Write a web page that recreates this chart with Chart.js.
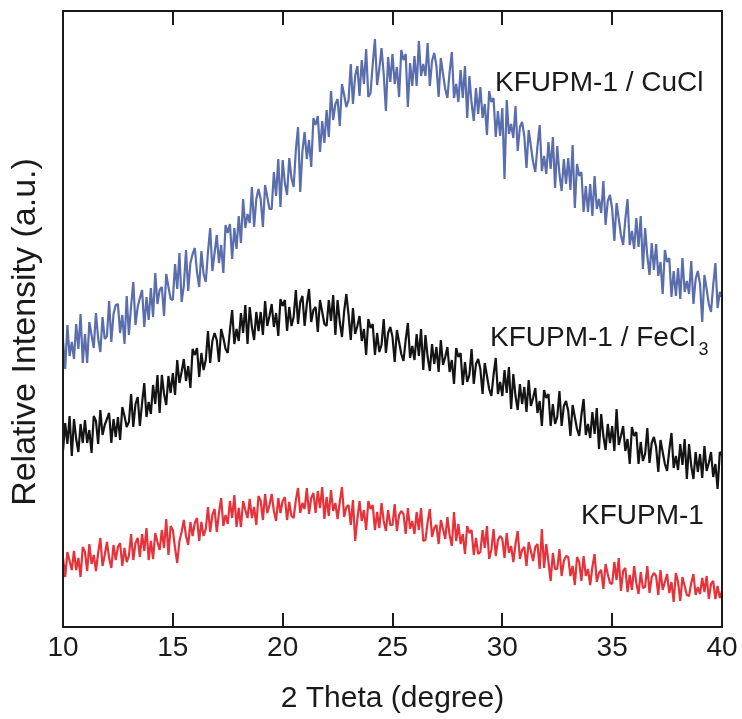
<!DOCTYPE html>
<html>
<head>
<meta charset="utf-8">
<title>KFUPM-1 XRD patterns</title>
<script src="https://cdn.jsdelivr.net/npm/chart.js@4.4.0/dist/chart.umd.min.js"></script>
<style>
  html, body { margin: 0; padding: 0; background: #fff; }
  canvas { display: block; }
</style>
</head>
<body>
<canvas id="xrd" width="742" height="719"></canvas>
<script>
// Powder XRD scans, 2 theta 10-40 deg with 0.1 deg steps.
// Intensities are in arbitrary units (curves already offset from each other).
const scanStart = 10;
const scanStep = 0.1;

const cuclIntensity = [
  287, 258, 302, 271, 285, 268, 303, 278, 313, 264,
  293, 264, 305, 292, 279, 314, 289, 275, 310, 288,
  291, 326, 285, 313, 322, 323, 294, 312, 283, 331,
  292, 321, 345, 302, 320, 329, 337, 300, 330, 307,
  339, 310, 354, 323, 337, 340, 311, 353, 340, 328,
  327, 363, 338, 374, 325, 341, 377, 336, 364, 373,
  379, 355, 340, 376, 353, 345, 375, 399, 356, 374,
  392, 364, 382, 354, 402, 394, 403, 368, 399, 378,
  411, 384, 428, 399, 413, 404, 440, 400, 428, 438,
  428, 400, 442, 430, 418, 418, 455, 431, 468, 420,
  467, 444, 432, 469, 449, 440, 477, 500, 435, 476,
  495, 468, 487, 460, 509, 502, 511, 475, 506, 484,
  517, 490, 536, 507, 523, 528, 501, 543, 532, 520,
  527, 563, 523, 551, 561, 531, 567, 543, 578, 530,
  534, 563, 588, 542, 558, 579, 553, 516, 570, 545,
  573, 543, 560, 530, 577, 567, 573, 520, 564, 541,
  571, 541, 586, 551, 563, 551, 584, 541, 566, 574,
  561, 530, 569, 553, 538, 529, 555, 575, 529, 543,
  525, 557, 529, 561, 509, 551, 524, 506, 539, 513,
  540, 509, 523, 492, 536, 525, 529, 490, 516, 491,
  519, 448, 527, 493, 503, 489, 521, 476, 500, 505,
  491, 459, 497, 481, 465, 455, 481, 502, 456, 471,
  453, 485, 458, 490, 439, 481, 453, 436, 468, 443,
  469, 437, 482, 419, 463, 451, 455, 415, 441, 415,
  443, 411, 451, 418, 428, 414, 446, 402, 426, 432,
  418, 386, 424, 408, 392, 382, 408, 428, 382, 396,
  378, 409, 380, 411, 358, 399, 371, 352, 384, 357,
  383, 351, 365, 333, 377, 365, 369, 330, 356, 331,
  359, 328, 369, 335, 346, 333, 366, 323, 348, 356,
  343, 305, 352, 338, 323, 315, 342, 364, 319, 335,
  330
];

const feclIntensity = [
  176, 204, 183, 211, 171, 208, 188, 175, 203, 184,
  207, 184, 197, 174, 211, 206, 183, 217, 192, 202,
  208, 214, 184, 208, 190, 210, 187, 220, 211, 200,
  205, 233, 200, 223, 230, 201, 224, 244, 210, 225,
  213, 242, 223, 252, 214, 252, 233, 222, 251, 234,
  254, 232, 267, 244, 255, 268, 246, 261, 239, 278,
  272, 279, 250, 274, 257, 267, 296, 264, 286, 294,
  287, 265, 298, 289, 278, 274, 297, 317, 283, 298,
  286, 314, 294, 322, 283, 320, 300, 287, 315, 296,
  315, 292, 326, 301, 311, 323, 300, 314, 291, 328,
  321, 327, 296, 320, 301, 310, 337, 303, 325, 331,
  301, 323, 338, 305, 317, 320, 295, 327, 315, 303,
  301, 327, 306, 332, 292, 327, 305, 290, 316, 333,
  312, 287, 319, 293, 301, 311, 286, 298, 272, 308,
  299, 303, 272, 294, 275, 282, 308, 274, 294, 300,
  290, 265, 297, 285, 273, 266, 287, 304, 269, 281,
  267, 293, 271, 298, 257, 292, 270, 256, 283, 263,
  280, 255, 287, 262, 270, 280, 255, 267, 243, 279,
  270, 274, 242, 265, 245, 252, 278, 243, 263, 268,
  258, 233, 264, 251, 238, 231, 252, 269, 233, 245,
  231, 257, 234, 260, 218, 253, 231, 217, 243, 223,
  240, 215, 247, 221, 229, 239, 214, 226, 201, 237,
  229, 233, 201, 223, 203, 210, 236, 201, 221, 226,
  216, 191, 222, 210, 198, 191, 212, 228, 192, 203,
  189, 215, 193, 219, 178, 213, 191, 177, 203, 184,
  201, 176, 218, 182, 191, 201, 176, 188, 163, 200,
  191, 195, 163, 185, 166, 173, 199, 164, 184, 190,
  180, 155, 187, 175, 163, 156, 177, 194, 159, 171,
  157, 183, 162, 188, 148, 183, 161, 148, 175, 155,
  173, 149, 181, 156, 164, 175, 150, 163, 138, 175,
  172
];

const pristineIntensity = [
  69, 50, 75, 66, 57, 76, 57, 69, 50, 80,
  75, 56, 83, 63, 72, 56, 74, 89, 61, 72,
  85, 69, 59, 82, 67, 80, 84, 61, 79, 65,
  71, 93, 67, 84, 89, 70, 93, 76, 99, 67,
  86, 68, 94, 85, 77, 97, 79, 108, 72, 101,
  97, 79, 64, 86, 95, 107, 91, 82, 105, 91,
  104, 109, 86, 105, 91, 98, 120, 95, 112, 118,
  95, 114, 129, 101, 112, 103, 126, 109, 132, 100,
  119, 100, 126, 117, 109, 128, 109, 120, 102, 131,
  126, 107, 133, 114, 122, 133, 116, 106, 129, 114,
  126, 130, 107, 125, 111, 109, 127, 139, 114, 124,
  118, 139, 113, 129, 134, 114, 136, 119, 140, 108,
  130, 111, 137, 116, 124, 108, 125, 140, 110, 120,
  122, 102, 127, 86, 108, 126, 106, 117, 97, 126,
  118, 122, 97, 115, 99, 124, 106, 96, 117, 102,
  102, 123, 96, 112, 116, 113, 93, 119, 98, 106,
  93, 115, 97, 119, 86, 87, 105, 118, 90, 99,
  102, 83, 107, 98, 88, 110, 92, 81, 115, 86,
  103, 83, 93, 73, 101, 94, 97, 72, 89, 73,
  75, 97, 79, 101, 68, 77, 98, 71, 87, 91,
  88, 69, 94, 74, 81, 65, 83, 96, 68, 77,
  80, 61, 85, 76, 66, 80, 83, 58, 98, 59,
  83, 65, 46, 74, 58, 58, 78, 51, 66, 71,
  70, 51, 61, 42, 70, 65, 46, 71, 51, 58,
  42, 60, 73, 45, 54, 57, 38, 63, 53, 44,
  43, 65, 47, 69, 36, 56, 59, 35, 52, 37,
  61, 44, 33, 55, 39, 40, 61, 34, 50, 54,
  51, 32, 57, 37, 45, 53, 34, 45, 25, 54,
  45, 26, 50, 41, 32, 31, 44, 53, 32, 40,
  33, 49, 35, 51, 28, 43, 46, 28, 41, 29,
  36
];

const twoTheta = cuclIntensity.map((_, i) => +(scanStart + i * scanStep).toFixed(1));

const seriesNames = ['KFUPM-1 / CuCl', 'KFUPM-1 / FeCl3', 'KFUPM-1'];

// text labels next to each curve, anchored in data units (2 theta, intensity)
const curveLabels = [
  { text: 'KFUPM-1 / CuCl', sub: '', x: 29.67, y: 536 },
  { text: 'KFUPM-1 / FeCl', sub: '3', x: 29.44, y: 281 },
  { text: 'KFUPM-1', sub: '', x: 33.58, y: 103 }
];

const FONT = '"Liberation Sans", Arial, Helvetica, sans-serif';
const INK = '#1a1a1a';

function toPoints(values) {
  return values.map((v, i) => ({ x: twoTheta[i], y: v }));
}

// frame + inward ticks on top and bottom, like the original plot
const frameTicks = {
  id: 'frameTicks',
  afterDraw(chart) {
    const { ctx, chartArea: a, scales: { x } } = chart;
    ctx.save();
    ctx.strokeStyle = INK;
    ctx.lineWidth = 2;
    ctx.beginPath();
    x.ticks.forEach(t => {
      const px = Math.round(x.getPixelForValue(t.value));
      ctx.moveTo(px, a.bottom);
      ctx.lineTo(px, a.bottom - 14);
      ctx.moveTo(px, a.top);
      ctx.lineTo(px, a.top + 14);
    });
    ctx.stroke();
    ctx.strokeRect(a.left, a.top, a.right - a.left, a.bottom - a.top);
    ctx.restore();
  }
};

// y title (drawn by hand so it can sit a bit below centre) and curve labels
const textLayer = {
  id: 'textLayer',
  afterDraw(chart) {
    const { ctx, chartArea: a, scales: { x, y } } = chart;
    ctx.save();
    ctx.fillStyle = INK;

    ctx.save();
    ctx.translate(35, (a.top + a.bottom) / 2 + 13);
    ctx.rotate(-Math.PI / 2);
    ctx.font = '34px ' + FONT;
    ctx.textAlign = 'center';
    ctx.textBaseline = 'alphabetic';
    ctx.fillText('Relative Intensity (a.u.)', 0, 0);
    ctx.restore();

    ctx.textAlign = 'left';
    ctx.textBaseline = 'alphabetic';
    curveLabels.forEach(l => {
      const px = x.getPixelForValue(l.x);
      const py = y.getPixelForValue(l.y);
      ctx.font = '28px ' + FONT;
      ctx.fillText(l.text, px, py);
      if (l.sub) {
        const w = ctx.measureText(l.text).width;
        ctx.font = '18px ' + FONT;
        ctx.fillText(l.sub, px + w + 3, py + 9);
      }
    });
    ctx.restore();
  }
};

new Chart(document.getElementById('xrd'), {
  type: 'line',
  data: {
    datasets: [
      { label: seriesNames[0], data: toPoints(cuclIntensity), borderColor: '#5a6eae' },
      { label: seriesNames[1], data: toPoints(feclIntensity), borderColor: '#141414' },
      { label: seriesNames[2], data: toPoints(pristineIntensity), borderColor: '#e8323a' }
    ]
  },
  options: {
    responsive: false,
    devicePixelRatio: 1,
    animation: false,
    layout: { padding: { top: 11, right: 20, left: 0, bottom: 0 } },
    elements: {
      line: { borderWidth: 2.2, tension: 0, borderJoinStyle: 'bevel' },
      point: { radius: 0, hoverRadius: 0 }
    },
    plugins: {
      legend: { display: false },
      tooltip: { enabled: false }
    },
    scales: {
      x: {
        type: 'linear',
        min: 10,
        max: 40,
        grid: { display: false, drawTicks: false },
        border: { display: false },
        ticks: {
          stepSize: 5,
          padding: 4,
          color: INK,
          font: { family: FONT, size: 28 }
        },
        title: {
          display: true,
          text: '2 Theta (degree)',
          color: INK,
          font: { family: FONT, size: 30 },
          padding: { top: 0, bottom: 2 }
        },
        afterFit(scale) { scale.height = 92; }
      },
      y: {
        min: 0,
        max: 616,
        grid: { display: false, drawTicks: false },
        border: { display: false },
        ticks: { display: false },
        afterFit(scale) { scale.width = 63; }
      }
    }
  },
  plugins: [frameTicks, textLayer]
});
</script>
</body>
</html>
